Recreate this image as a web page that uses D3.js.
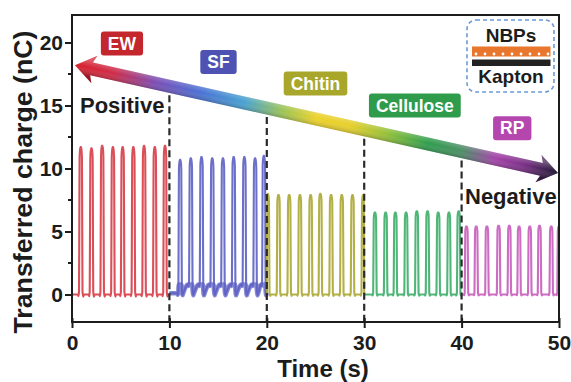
<!DOCTYPE html>
<html><head><meta charset="utf-8">
<script src="https://cdn.jsdelivr.net/npm/d3@7"></script>
<style>
html,body{margin:0;padding:0;background:#fff;}
svg{display:block;font-family:"Liberation Sans",Arial,Helvetica,sans-serif;}
</style></head>
<body>
<svg id="chart" width="571" height="382"></svg>
<script>
// ---------- data ----------
const xTicks = [0, 10, 20, 30, 40, 50];
const yTicks = [0, 5, 10, 15, 20];
const yMinorTicks = [2.5, 7.5, 12.5, 17.5];
const materials = ["EW", "SF", "Chitin", "Cellulose", "RP"];
const segmentStart = [0, 10, 20, 30, 40];
const segmentEnd = [10, 20, 30, 40, 50];
const peaksEW = [0.9, 2.0, 3.1, 4.2, 5.2, 6.3, 7.4, 8.5, 9.55];
const heightsEW = [11.7, 11.6, 11.8, 11.7, 11.7, 11.7, 11.8, 11.7, 11.8];
const peaksSF = [11.1, 12.2, 13.3, 14.4, 15.5, 16.6, 17.7, 18.8, 19.7];
const heightsSF = [10.7, 10.8, 10.9, 10.8, 10.8, 10.9, 10.9, 10.8, 11.0];
const peaksChitin = [20.1, 21.2, 22.3, 23.4, 24.5, 25.5, 26.6, 27.7, 28.8, 29.9];
const heightsChitin = [8.0, 7.9, 7.9, 7.9, 7.9, 8.0, 7.9, 7.9, 7.9, 7.9];
const peaksCellulose = [31.1, 32.2, 33.2, 34.3, 35.4, 36.5, 37.6, 38.7, 39.7];
const heightsCellulose = [6.5, 6.5, 6.5, 6.5, 6.6, 6.6, 6.5, 6.5, 6.6];
const peaksRP = [40.5, 41.5, 42.6, 43.8, 44.9, 45.9, 47.0, 48.0, 49.2, 50.0];
const heightsRP = [5.4, 5.4, 5.4, 5.45, 5.45, 5.4, 5.4, 5.45, 5.4, 5.4];
// baseline level between pulses (just after a pulse, just before the next)
const baseLow = [0, 0.1, 0, 0, 0];
const baseHigh = [0, 0.8, 0, 0, 0];

const allPeaks = [peaksEW, peaksSF, peaksChitin, peaksCellulose, peaksRP];
const allHeights = [heightsEW, heightsSF, heightsChitin, heightsCellulose, heightsRP];

// ---------- styles ----------
const lineColors = ["#d63c46", "#5d61c3", "#aca734", "#3cae69", "#c65cbb"];
const boxColors = ["#c4262e", "#4d52b3", "#a8a72c", "#2f9c4c", "#b446ad"];
const ink = "#1c1c1c";

const svg = d3.select("#chart");
const x = d3.scaleLinear().domain([0, 50]).range([72, 559]);
const y = d3.scaleLinear().domain([0, 20]).range([294.5, 42.5]);
const plotTop = 15, plotBottom = 322;

const defs = svg.append("defs");
defs.append("clipPath").attr("id", "clip").append("rect")
  .attr("x", x(0)).attr("y", plotTop).attr("width", x(50) - x(0)).attr("height", plotBottom - plotTop);

// pulse profile (time offset in s, fraction of pulse height)
const pulseShape = [[-0.24, -0.012], [-0.18, 0.02], [-0.15, 0.45], [-0.12, 0.93], [-0.06, 1], [0.06, 1], [0.12, 0.93], [0.15, 0.45], [0.18, 0.02], [0.25, -0.015]];

function buildSeries(i) {
  const pts = [];
  const peaks = allPeaks[i], hs = allHeights[i];
  const lo = baseLow[i], hi = baseHigh[i];
  const s0 = segmentStart[i], s1 = segmentEnd[i];
  pts.push([s0, lo]);
  peaks.forEach((p, k) => {
    const before = k === 0 ? lo : hi;
    pts.push([p - 0.3, before]);
    pulseShape.forEach(([dt, f]) => {
      const b = dt < 0 ? before : lo;
      pts.push([p + dt, b + f * (hs[k] - b)]);
    });
    pts.push([p + 0.32, lo]);
  });
  pts.push([s1, lo]);
  const out = pts.filter(d => d[0] >= s0 && d[0] <= s1);
  out.sort((a, b) => a[0] - b[0]);
  return out;
}

const line = d3.line().x(d => x(d[0])).y(d => y(d[1])).curve(d3.curveMonotoneX);
const dataG = svg.append("g").attr("clip-path", "url(#clip)");
materials.forEach((m, i) => {
  const pts = buildSeries(i);
  if (i === 1) {
    // SF trace has a noisy, thick baseline
    const basePts = pts.map(d => [d[0], Math.min(d[1], baseHigh[1])]);
    dataG.append("path").attr("d", line(basePts)).attr("fill", "none")
      .attr("stroke", lineColors[i]).attr("stroke-width", 4.5).attr("stroke-opacity", 0.75);
  }
  dataG.append("path")
    .attr("d", line(pts))
    .attr("fill", "none")
    .attr("stroke", lineColors[i])
    .attr("stroke-width", 2.1)
    .attr("stroke-opacity", 0.9)
    .attr("stroke-linejoin", "round");
});

// ---------- arrow ----------
const arrowFrom = [0.3, 18.2], arrowTo = [49.9, 9.64];
const ax0 = x(arrowFrom[0]), ay0 = y(arrowFrom[1]), ax1 = x(arrowTo[0]), ay1 = y(arrowTo[1]);
const L = Math.hypot(ax1 - ax0, ay1 - ay0);
const ang = Math.atan2(ay1 - ay0, ax1 - ax0) * 180 / Math.PI;
const arrowY = xv => ay0 + (ay1 - ay0) * (x(xv) - ax0) / (ax1 - ax0);

// dashed separators
[10, 20, 30, 40].forEach(t => {
  svg.append("line")
    .attr("x1", x(t)).attr("x2", x(t))
    .attr("y1", arrowY(t) + 9).attr("y2", plotBottom)
    .attr("stroke", "#2a2a2a").attr("stroke-width", 2.2).attr("stroke-dasharray", "7,4");
});

const grad = defs.append("linearGradient").attr("id", "arrowGrad")
  .attr("gradientUnits", "userSpaceOnUse").attr("x1", 0).attr("y1", 0).attr("x2", L).attr("y2", 0);
[[0, "#d8202c"], [0.08, "#cf2c48"], [0.17, "#7a4fb8"], [0.26, "#4a72d4"], [0.35, "#48a2d2"],
 [0.43, "#9cc456"], [0.5, "#ecd22a"], [0.57, "#e6cf2c"], [0.65, "#8fbf3a"], [0.73, "#2f9e4e"],
 [0.8, "#4c8f66"], [0.87, "#a544aa"], [0.93, "#7a2f86"], [1, "#1c1830"]].forEach(([o, c]) =>
  grad.append("stop").attr("offset", o).attr("stop-color", c));
const shade = defs.append("linearGradient").attr("id", "arrowShade")
  .attr("gradientUnits", "userSpaceOnUse").attr("x1", 0).attr("y1", -8).attr("x2", 0).attr("y2", 8);
shade.append("stop").attr("offset", 0).attr("stop-color", "#fff").attr("stop-opacity", 0.25);
shade.append("stop").attr("offset", 0.45).attr("stop-color", "#fff").attr("stop-opacity", 0);
shade.append("stop").attr("offset", 1).attr("stop-color", "#000").attr("stop-opacity", 0.3);

const headL = 20, headW = 14, shaftW = 6.5;
const arrowPts = [[0, 0], [headL, -headW], [headL - 3, -shaftW], [L - headL + 3, -shaftW], [L - headL, -headW], [L, 0],
  [L - headL, headW], [L - headL + 3, shaftW], [headL - 3, shaftW], [headL, headW]];
const arrowG = svg.append("g").attr("transform", `translate(${ax0},${ay0}) rotate(${ang})`);
const arrowD = "M" + arrowPts.map(p => p.join(",")).join("L") + "Z";
arrowG.append("path").attr("d", arrowD).attr("fill", "url(#arrowGrad)");
arrowG.append("path").attr("d", arrowD).attr("fill", "url(#arrowShade)");

// ---------- material label boxes ----------
const labelPos = [[5.13, 19.92], [15.04, 18.45], [25.0, 16.75], [35.2, 15.0], [45.2, 13.2]];
materials.forEach((m, i) => {
  const cx = x(labelPos[i][0]), cy = y(labelPos[i][1]);
  const t = svg.append("text").attr("x", cx).attr("y", cy + 6.2)
    .attr("text-anchor", "middle").attr("font-size", 17.5).attr("font-weight", "bold")
    .attr("fill", "#fff").text(m);
  const w = t.node().getComputedTextLength() + 14;
  svg.insert("rect", () => t.node())
    .attr("x", cx - w / 2).attr("y", cy - 12).attr("width", w).attr("height", 24)
    .attr("rx", 3).attr("fill", boxColors[i]);
});

// Positive / Negative
svg.append("text").attr("x", 80).attr("y", 113).attr("font-size", 22).attr("font-weight", "bold")
  .attr("fill", ink).text("Positive");
svg.append("text").attr("x", 465).attr("y", 204).attr("font-size", 22).attr("font-weight", "bold")
  .attr("fill", ink).text("Negative");

// ---------- inset legend ----------
const lg = svg.append("g");
lg.append("rect").attr("x", 467).attr("y", 20).attr("width", 87).attr("height", 72).attr("rx", 9)
  .attr("fill", "#fff").attr("stroke", "#6b9bd6").attr("stroke-width", 1.6).attr("stroke-dasharray", "4,3");
lg.append("text").attr("x", 511).attr("y", 42).attr("text-anchor", "middle").attr("font-size", 19)
  .attr("font-weight", "bold").attr("fill", ink).text("NBPs");
lg.append("rect").attr("x", 472).attr("y", 46.5).attr("width", 78.5).attr("height", 10).attr("fill", "#e8762c");
d3.range(476, 550, 9).forEach(cx =>
  lg.append("circle").attr("cx", cx).attr("cy", 54).attr("r", 1.4).attr("fill", "#fff"));
lg.append("rect").attr("x", 472).attr("y", 59.5).attr("width", 78.5).attr("height", 6.5).attr("fill", "#222");
lg.append("text").attr("x", 511).attr("y", 83).attr("text-anchor", "middle").attr("font-size", 19)
  .attr("font-weight", "bold").attr("fill", ink).text("Kapton");

// ---------- axes ----------
const xAxis = svg.append("g").attr("transform", `translate(0,${plotBottom})`)
  .call(d3.axisBottom(x).tickValues(xTicks).tickSizeInner(6).tickSizeOuter(0).tickPadding(7));
xAxis.select(".domain").remove();
xAxis.selectAll(".tick line").attr("y1", -4).attr("y2", 6).attr("stroke", ink).attr("stroke-width", 2);
xAxis.selectAll(".tick text").attr("font-size", 21).attr("font-weight", "bold").attr("fill", ink)
  .attr("font-family", "Liberation Sans, Arial, sans-serif");

const yAxis = svg.append("g").attr("transform", `translate(${x(0)},0)`)
  .call(d3.axisLeft(y).tickValues(yTicks).tickSizeInner(7).tickSizeOuter(0).tickPadding(2));
yAxis.select(".domain").remove();
yAxis.selectAll(".tick line").attr("stroke", ink).attr("stroke-width", 2);
yAxis.selectAll(".tick text").attr("font-size", 21).attr("font-weight", "bold").attr("fill", ink)
  .attr("font-family", "Liberation Sans, Arial, sans-serif");
yMinorTicks.forEach(v => svg.append("line").attr("x1", x(0) - 4).attr("x2", x(0))
  .attr("y1", y(v)).attr("y2", y(v)).attr("stroke", ink).attr("stroke-width", 2));

// frame
svg.append("path")
  .attr("d", `M${x(0)},${plotBottom}V${plotTop}H${x(50)}V${plotBottom}Z`)
  .attr("fill", "none").attr("stroke", ink).attr("stroke-width", 2);

// titles
svg.append("text").attr("x", 323).attr("y", 377).attr("text-anchor", "middle")
  .attr("font-size", 24).attr("font-weight", "bold").attr("fill", ink).text("Time (s)");
svg.append("text").attr("transform", "translate(32,182) rotate(-90)").attr("text-anchor", "middle")
  .attr("font-size", 25).attr("font-weight", "bold").attr("fill", ink)
  .attr("textLength", 303).attr("lengthAdjust", "spacingAndGlyphs").text("Transferred charge (nC)");
</script>
</body></html>
